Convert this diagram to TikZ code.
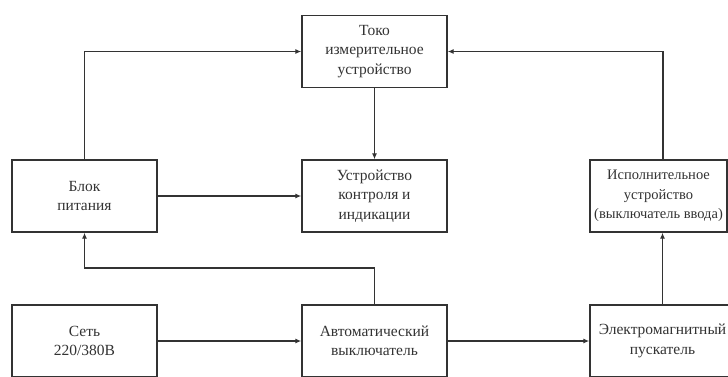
\documentclass[tikz,border=0pt]{standalone}
\usepackage{fontspec}
\setmainfont{Liberation Serif}
\usetikzlibrary{arrows.meta}
\begin{document}
\begin{tikzpicture}[x=1pt,y=-1pt,
  blk/.style={draw=black!80, line width=1.4pt, fill=white, minimum width=145pt, minimum height=72pt,
    inner sep=0pt, align=center, font=\fontsize{15.5}{19.5}\selectfont, text=black!80},
  conn/.style={draw=black!80, line width=1.4pt, -{Latex[length=6pt,width=5pt]}}]
\useasboundingbox (0,0) rectangle (728,376);
\clip (0,0) rectangle (728,376);
\fill[white] (0,0) rectangle (728,376);
\node[blk] (top) at (374.5,51.5) {Токо\\измерительное\\устройство};
\node[blk] (mid) at (374.5,196) {Устройство\\контроля и\\индикации};
\node[blk] (left) at (84.5,196) {Блок\\питания};
\node[blk, minimum width=137pt, font=\fontsize{14.5}{19.5}\selectfont] (right) at (658.5,196) {Исполнительное\\устройство\\(выключатель ввода)};
\node[blk] (bl) at (84.5,341) {Сеть\\220/380В};
\node[blk] (bm) at (374.5,341) {Автоматический\\выключатель};
\node[blk] (br) at (662.5,341) {Электромагнитный\\пускатель};
\coordinate (j) at (374.5,268);
\coordinate (rt) at (663,160);
\draw[conn] (top) -- (mid);
\draw[conn] (left.north) |- (top.west);
\draw[conn] (rt) |- (top.east);
\draw[conn] (left) -- (mid);
\draw[conn] (bm.north) -- (j) -| (left.south);
\draw[conn] (bl) -- (bm);
\draw[conn] (bm) -- (br);
\draw[conn] (br.north) -- (br.north |- right.south);
\end{tikzpicture}
\end{document}
